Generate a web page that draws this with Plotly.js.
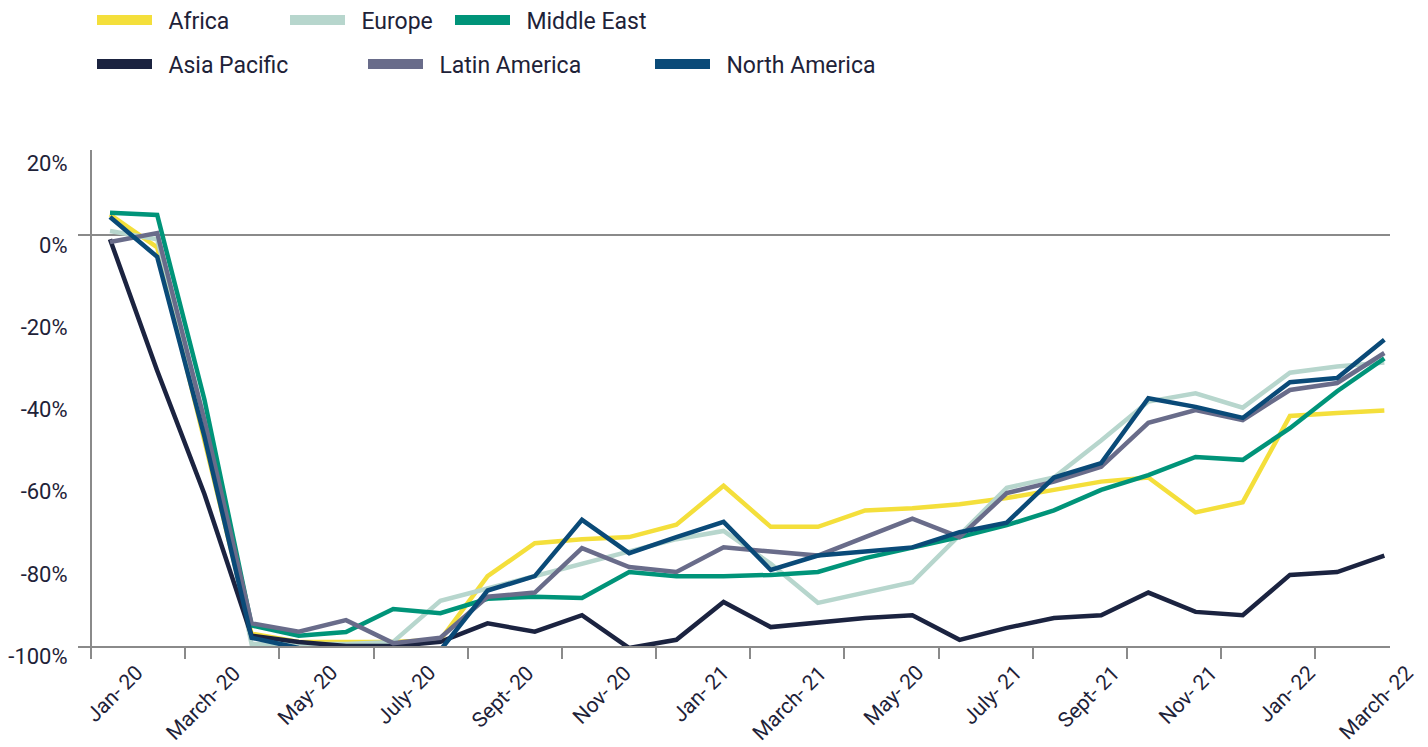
<!DOCTYPE html>
<html>
<head>
<meta charset="utf-8">
<script src="https://cdn.plot.ly/plotly-3.0.1.min.js"></script>
<style>
  html, body { margin: 0; padding: 0; background: #ffffff; }
  #chart { width: 1428px; height: 747px; }
</style>
</head>
<body>
<div id="chart"></div>
<script>
// ---- data (percent change) ----
const pointIndex = [0,1,2,3,4,5,6,7,8,9,10,11,12,13,14,15,16,17,18,19,20,21,22,23,24,25,26,27];

const africa       = [5, -3, -50, -97, -99, -99, -99, -98.5, -83, -75, -74, -73.5, -70.5, -61, -71, -71, -67, -66.5, -65.5, -64, -62, -60, -59, -67.5, -65, -44, -43.3, -42.7];
const europe       = [1, -1, -45, -99.5, -99.5, -99.5, -99, -89, -86, -83, -80, -77, -74, -72, -80, -89.5, -87, -84.5, -73, -61.5, -59, -50, -40.5, -38.5, -42, -33.5, -32, -31];
const middleEast   = [5.4, 4.9, -40, -95, -97.5, -96.6, -91, -92, -88.5, -88, -88.3, -82, -83, -83, -82.7, -82, -78.6, -76, -73.5, -70.6, -67, -62, -58.4, -54, -54.7, -47, -38, -30];
const asiaPacific  = [-1, -33, -63, -97.5, -99, -100, -100, -99, -94.5, -96.5, -92.5, -100.5, -98.5, -89.3, -95.4, -94.2, -93.2, -92.5, -98.5, -95.6, -93.2, -92.5, -87, -91.7, -92.5, -82.7, -82, -78];
const latinAmerica = [-1.7, 0.5, -45, -94.5, -96.5, -93.7, -99.3, -98, -88, -87, -76.2, -80.8, -82, -76, -77, -78, -73.5, -69, -73.5, -62.8, -60, -56.4, -45.7, -42.6, -45, -37.7, -36, -28.7];
const northAmerica = [4.4, -5.3, -49, -98, -100.5, -101, -101, -101, -86.5, -83, -69.3, -77.4, -73.5, -69.8, -81.5, -78, -77, -76, -72.3, -70, -59, -55.5, -39.7, -41.8, -44.5, -35.8, -34.8, -25.5];

const seriesNames = ["Africa", "Europe", "Middle East", "Asia Pacific", "Latin America", "North America"];
const xTickLabels = ["Jan- 20", "March- 20", "May- 20", "July- 20", "Sept- 20", "Nov- 20", "Jan- 21", "March- 21", "May- 20", "July- 21", "Sept- 21", "Nov- 21", "Jan- 22", "March- 22"];
const yTickValues = [20, 0, -20, -40, -60, -80, -100];
const yTickLabels = ["20%", "0%", "-20%", "-40%", "-60%", "-80%", "-100%"];

// ---- styles ----
const colors = ["#F4DF3B", "#B7D6CD", "#009479", "#1B2340", "#696C8A", "#0A4A78"];
const seriesData = [africa, europe, middleEast, asiaPacific, latinAmerica, northAmerica];
const legendIds = ["legend", "legend2", "legend3", "legend4", "legend5", "legend6"];
const legendPx = [[97, 20], [290, 20], [455, 20], [97, 64], [368, 64], [655, 64]];

const W = 1428, H = 747;
const M = {l: 78, r: 38, t: 150, b: 101, autoexpand: false};
const plotW = W - M.l - M.r, plotH = H - M.t - M.b;
const FONT = "Roboto, Arial, sans-serif";
const TXT = "#1E2238";
const AX = "#8A8A8A";
const X_RANGE = [-0.678, 27.12];

const traces = [];
seriesData.forEach((ys, i) => {
  traces.push({
    x: pointIndex, y: ys, type: "scatter", mode: "lines",
    name: seriesNames[i], showlegend: false,
    line: {color: colors[i], width: 4.5, shape: "linear"},
    hoverinfo: "name+y"
  });
});
// legend-only entries (thicker swatches)
seriesData.forEach((ys, i) => {
  traces.push({
    x: [null], y: [null], type: "scatter", mode: "lines",
    name: "\u00A0\u00A0" + seriesNames[i], legend: legendIds[i], showlegend: true,
    line: {color: colors[i], width: 10}, hoverinfo: "skip"
  });
});

const tickMarks = xTickLabels.map((_, i) => -0.4 + 1.995 * i);
const labelPos = xTickLabels.map((_, i) => 0.85 + 2.07 * i);
const toPaperX = v => (v - X_RANGE[0]) / (X_RANGE[1] - X_RANGE[0]);

const annotations = xTickLabels.map((t, i) => ({
  x: toPaperX(labelPos[i]), xref: "paper", y: 0, yref: "paper", yshift: -12,
  xanchor: "right", yanchor: "top", textangle: -45, showarrow: false,
  text: t, font: {family: FONT, size: 21, color: TXT}
}));

const layout = {
  width: W, height: H,
  margin: M,
  paper_bgcolor: "#ffffff", plot_bgcolor: "#ffffff",
  font: {family: FONT, size: 21, color: TXT},
  xaxis: {
    range: X_RANGE, showgrid: false, zeroline: false,
    showline: true, linecolor: AX, linewidth: 2,
    ticks: "outside", ticklen: 11, tickwidth: 2, tickcolor: AX,
    tickmode: "array", tickvals: tickMarks, showticklabels: false
  },
  yaxis: {
    range: [-100, 20.7], showgrid: false,
    zeroline: true, zerolinecolor: AX, zerolinewidth: 1.5,
    showline: true, linecolor: AX, linewidth: 2,
    anchor: "free", position: (91 - M.l) / plotW,
    ticks: "", tickmode: "array", tickvals: yTickValues, ticktext: yTickLabels,
    ticklabelstandoff: 18, ticklabelshift: 10,
    tickfont: {family: FONT, size: 22, color: TXT}
  },
  annotations: annotations,
  hovermode: "closest"
};

legendIds.forEach((id, i) => {
  layout[id] = {
    xref: "container", yref: "container",
    x: (legendPx[i][0] - 5) / W,
    y: 1 - legendPx[i][1] / H,
    xanchor: "left", yanchor: "middle",
    orientation: "h", bgcolor: "rgba(0,0,0,0)", borderwidth: 0,
    itemwidth: 55,
    font: {family: FONT, size: 23, color: TXT}
  };
});

Plotly.newPlot("chart", traces, layout, {displayModeBar: false, responsive: false});
</script>
</body>
</html>
